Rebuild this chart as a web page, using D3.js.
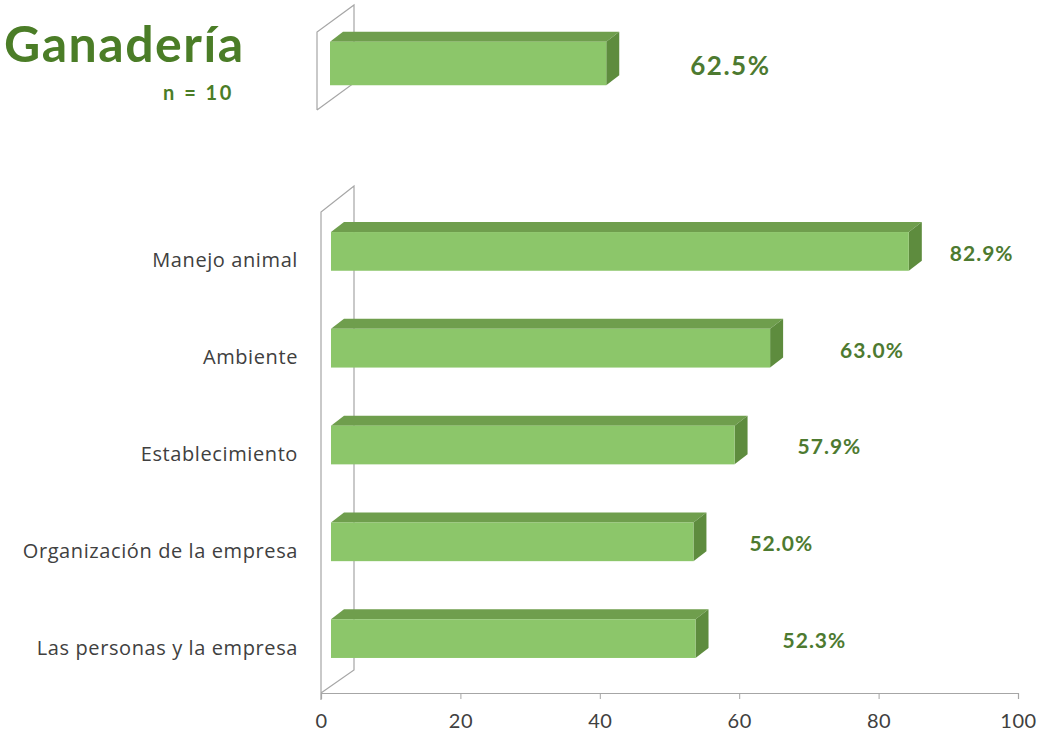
<!DOCTYPE html>
<html lang="es">
<head>
    <meta charset="UTF-8">
    <title>Ganaderia</title>
    <script type="text/javascript" src="https://d3js.org/d3.v7.min.js"></script>
    <style>
        body { margin: 0; background: #ffffff; }
        text { font-family: Lato, "Open Sans", sans-serif; }
    </style>
</head>
<body>
<script type="text/javascript">
    // data
    var categories = ["Manejo animal", "Ambiente", "Establecimiento",
                      "Organización de la empresa", "Las personas y la empresa"];
    var values = [82.9, 63.0, 57.9, 52.0, 52.3];
    var totalCategory = ["Ganadería"];
    var totalValue = [62.5];
    var xTicks = [0, 20, 40, 60, 80, 100];
    var sampleLabel = "n = 10";

    // manual nudges of the value labels (as placed in the original)
    var labelShift = [41, 70, 63, 56, 87];
    var totalShift = [84];

    var width = 1040, height = 738;
    var depthX = 13, depthY = -10;
    var green = "#8cc66a", greenTop = "#6f9e4d", greenSide = "#5e8c3e";
    var textGreen = "#4d7a30";

    var svg = d3.select("body").append("svg")
                .attr("width", width)
                .attr("height", height);

    // ---------- main chart ----------
    var x = d3.scaleLinear().domain([0, 100]).range([321, 1018]);
    var y = d3.scaleBand().domain(categories)
              .range([203, 687]).paddingInner(0.6).paddingOuter(0.3);
    var axisY = 693;

    // back wall
    svg.append("path")
       .attr("d", "M" + x(0) + "," + 700 + " L" + x(0) + ",212 L" + (x(0) + 33) + ",186 L" +
                  (x(0) + 33) + ",670 L" + x(0) + "," + axisY)
       .attr("fill", "none")
       .attr("stroke", "#a6a6a6")
       .attr("stroke-width", 1.2);

    var xAxis = d3.axisBottom(x).tickValues(xTicks).tickSize(6).tickPadding(15);
    var xg = svg.append("g").attr("transform", "translate(0," + axisY + ")").call(xAxis);
    xg.select(".domain").attr("stroke", "#a6a6a6").attr("stroke-width", 1.2);
    xg.selectAll(".tick line").attr("stroke", "#a6a6a6");
    xg.selectAll(".tick text")
      .attr("fill", "#404040")
      .style("font-family", "Lato, sans-serif")
      .style("font-size", "20px")
      .style("letter-spacing", "0.5px");

    function drawBar(g, x0, x1, y0, h) {
        // top face
        g.append("path")
         .attr("d", "M" + x0 + "," + y0 + " L" + (x0 + depthX) + "," + (y0 + depthY) +
                    " L" + (x1 + depthX) + "," + (y0 + depthY) + " L" + x1 + "," + y0 + "Z")
         .attr("fill", greenTop);
        // side face
        g.append("path")
         .attr("d", "M" + x1 + "," + y0 + " L" + (x1 + depthX) + "," + (y0 + depthY) +
                    " L" + (x1 + depthX) + "," + (y0 + h + depthY) + " L" + x1 + "," + (y0 + h) + "Z")
         .attr("fill", greenSide);
        // front face
        g.append("rect")
         .attr("x", x0).attr("y", y0)
         .attr("width", x1 - x0).attr("height", h)
         .attr("fill", green);
    }

    var front = 10; // front plane offset of the bars from the wall
    var bars = svg.append("g");
    categories.forEach(function(c, i) {
        drawBar(bars, x(0) + front, x(values[i]) + front, y(c), y.bandwidth());
    });

    svg.append("g").selectAll("text").data(categories).enter()
       .append("text")
       .attr("x", 298)
       .attr("y", function(d) { return y(d) + y.bandwidth() / 2 + 9; })
       .attr("dy", "0.35em")
       .attr("text-anchor", "end")
       .attr("fill", "#404040")
       .style("font-family", "'Open Sans', sans-serif")
       .style("font-size", "20px")
       .style("letter-spacing", "0.6px")
       .text(function(d) { return d; });

    svg.append("g").selectAll("text").data(values).enter()
       .append("text")
       .attr("x", function(d, i) { return x(d) + front + labelShift[i]; })
       .attr("y", function(d, i) { return y(categories[i]) + y.bandwidth() / 2 + 2; })
       .attr("dy", "0.35em")
       .attr("fill", textGreen)
       .style("font-size", "21px")
       .style("font-weight", "bold")
       .style("letter-spacing", "1px")
       .text(function(d) { return d.toFixed(1) + "%"; });

    // ---------- total chart (top) ----------
    var xTop = d3.scaleLinear().domain([0, 100]).range([317, 759]);
    var yTop = d3.scaleBand().domain(totalCategory)
                 .range([20, 107]).paddingInner(0.5).paddingOuter(0.25);

    svg.append("path")
       .attr("d", "M" + xTop(0) + ",110 L" + xTop(0) + ",32 L" + (xTop(0) + 37) + ",5 L" +
                  (xTop(0) + 37) + ",83 L" + xTop(0) + ",110")
       .attr("fill", "none")
       .attr("stroke", "#a6a6a6")
       .attr("stroke-width", 1.2);

    var topBars = svg.append("g");
    totalCategory.forEach(function(c, i) {
        drawBar(topBars, xTop(0) + 13, xTop(totalValue[i]) + 13, yTop(c), yTop.bandwidth());
    });

    svg.append("g").selectAll("text").data(totalValue).enter()
       .append("text")
       .attr("x", function(d, i) { return xTop(d) + 13 + totalShift[i]; })
       .attr("y", function(d, i) { return yTop(totalCategory[i]) + yTop.bandwidth() / 2 + 2; })
       .attr("dy", "0.35em")
       .attr("fill", textGreen)
       .style("font-size", "26px")
       .style("font-weight", "bold")
       .style("letter-spacing", "1.5px")
       .text(function(d) { return d.toFixed(1) + "%"; });

    // title
    svg.append("text")
       .attr("x", 4).attr("y", 62)
       .attr("fill", "#4b7d27")
       .style("font-size", "50px")
       .style("font-weight", "bold")
       .style("letter-spacing", "1.5px")
       .text(totalCategory[0]);

    svg.append("text")
       .attr("x", 163).attr("y", 100)
       .attr("fill", "#4b7d27")
       .style("font-size", "20px")
       .style("font-weight", "bold")
       .style("letter-spacing", "2.5px")
       .text(sampleLabel);
</script>
</body>
</html>
